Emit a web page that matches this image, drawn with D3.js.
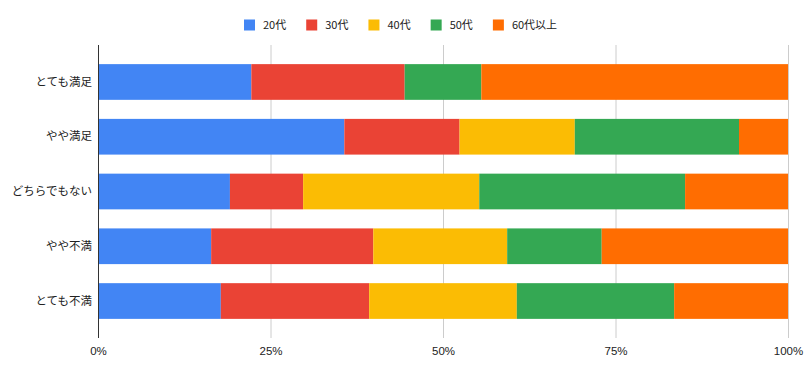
<!DOCTYPE html>
<html>
<head>
<meta charset="utf-8">
<script src="https://cdn.jsdelivr.net/npm/d3@7"></script>
<style>
  body { margin: 0; background: #fff; }
  svg text { font-family: "Liberation Sans", "Noto Sans CJK JP", sans-serif; }
</style>
</head>
<body>
<svg width="806" height="377"></svg>
<script>
// categories (top to bottom)
var categories = ["とても満足", "やや満足", "どちらでもない", "やや不満", "とても不満"]
var seriesNames = ["20代", "30代", "40代", "50代", "60代以上"]
var colors = ["#4285f4", "#ea4335", "#fbbc04", "#34a853", "#ff6d01"]

// share per age group, %
var age20 = [22.2, 35.7, 19.1, 16.4, 17.8]
var age30 = [22.2, 16.7, 10.6, 23.5, 21.5]
var age40 = [0, 16.7, 25.5, 19.4, 21.4]
var age50 = [11.1, 23.8, 29.8, 13.7, 22.8]
var age60 = [44.4, 7.1, 14.9, 27.0, 16.5]

var tickValues = [0, 0.25, 0.5, 0.75, 1]

var svg = d3.select("svg")
var plotLeft = 98, plotRight = 788, plotTop = 45, plotBottom = 338

var rows = categories.map(function (c, i) {
  return { name: c, "20代": age20[i], "30代": age30[i], "40代": age40[i], "50代": age50[i], "60代以上": age60[i] }
})

var stack = d3.stack().keys(seriesNames).offset(d3.stackOffsetExpand)
var layers = stack(rows)

var x = d3.scaleLinear().domain([0, 1]).range([plotLeft, plotRight])
var y = d3.scaleBand().domain(categories)
  .range([54.6, 328.4])
  .paddingInner(0.348)
  .paddingOuter(0.174)
var z = d3.scaleOrdinal().domain(seriesNames).range(colors)

// gridlines
svg.append("g")
  .selectAll("line")
  .data(tickValues.slice(1))
  .enter().append("line")
    .attr("x1", function (d) { return x(d) + 0.5 })
    .attr("x2", function (d) { return x(d) + 0.5 })
    .attr("y1", plotTop)
    .attr("y2", plotBottom)
    .attr("stroke", "#cccccc")

// bars
svg.append("g")
  .selectAll("g")
  .data(layers)
  .enter().append("g")
    .attr("fill", function (d) { return z(d.key) })
  .selectAll("rect")
  .data(function (d) { return d })
  .enter().append("rect")
    .attr("x", function (d) { return x(d[0]) })
    .attr("width", function (d) { return x(d[1]) - x(d[0]) })
    .attr("y", function (d) { return y(d.data.name) })
    .attr("height", y.bandwidth())

// zero axis line
svg.append("line")
  .attr("x1", x(0) + 0.5).attr("x2", x(0) + 0.5)
  .attr("y1", plotTop).attr("y2", plotBottom)
  .attr("stroke", "#333333")

// x axis labels
var xAxis = svg.append("g")
  .attr("transform", "translate(0," + plotBottom + ")")
  .call(d3.axisBottom(x).tickValues(tickValues).tickFormat(d3.format(".0%")).tickSize(0).tickPadding(9))
xAxis.select(".domain").remove()
xAxis.selectAll("text").attr("font-size", 11.5).attr("fill", "#222")
  .style("font-family", "'Liberation Sans', sans-serif")

// y axis labels
var yAxis = svg.append("g")
  .attr("transform", "translate(" + plotLeft + ",0)")
  .call(d3.axisLeft(y).tickSize(0).tickPadding(6))
yAxis.select(".domain").remove()
yAxis.selectAll("text").attr("font-size", 11.5).attr("fill", "#222")
  .style("font-family", "'Noto Sans CJK JP', sans-serif")

// legend
var legend = svg.append("g").attr("font-size", 11)
var lx = 0
var items = legend.selectAll("g")
  .data(seriesNames)
  .enter().append("g")

items.append("rect")
  .attr("width", 11).attr("height", 11)
  .attr("y", 19.5)
  .attr("fill", z)

items.append("text")
  .attr("x", 19)
  .attr("y", 25)
  .attr("dy", "0.35em")
  .attr("fill", "#222")
  .style("font-family", "'Noto Sans CJK JP', sans-serif")
  .text(function (d) { return d })

items.each(function () {
  var g = d3.select(this)
  g.attr("transform", "translate(" + lx + ",0)")
  lx += 19 + g.select("text").node().getComputedTextLength() + 20
})
var legendWidth = lx - 20
legend.attr("transform", "translate(" + (244) + ",0)")
</script>
</body>
</html>
